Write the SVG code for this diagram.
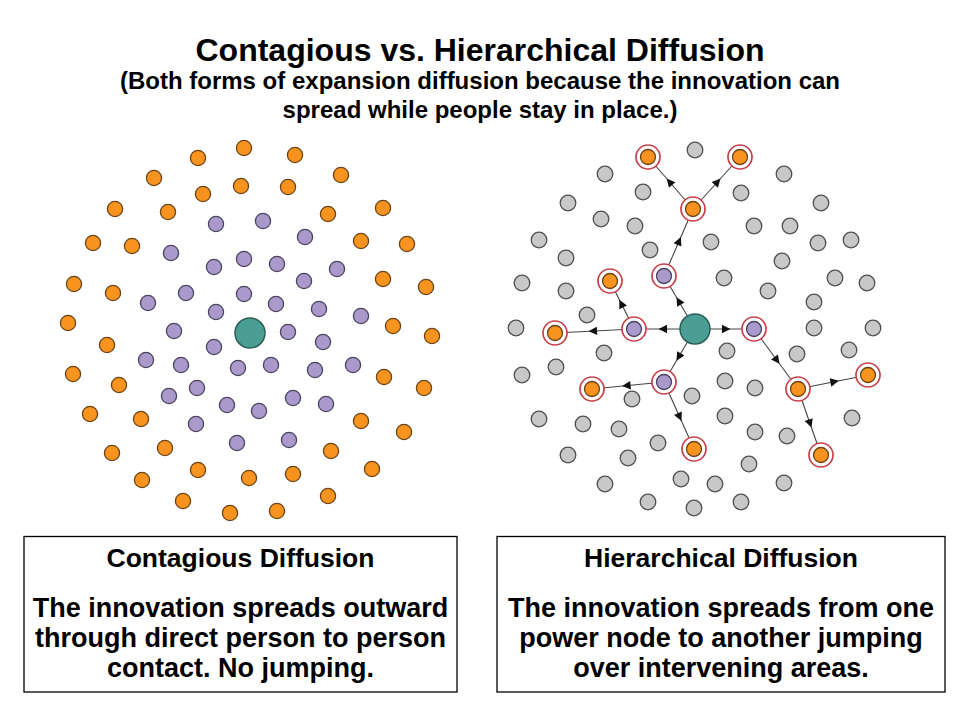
<svg xmlns="http://www.w3.org/2000/svg" width="960" height="720" viewBox="0 0 960 720">
<style>
text{font-family:"Liberation Sans",Arial,sans-serif;font-weight:bold;fill:#000;text-anchor:middle}
.t{font-size:32px}
.s{font-size:24px}
.h{font-size:26.5px}
.b{font-size:27px}
.o{fill:#F7931E;stroke:#6b4416;stroke-width:1.3}
.p{fill:#A99ACB;stroke:#4a4360;stroke-width:1.3}
.g{fill:#C8C8C8;stroke:#505050;stroke-width:1.3}
.c{fill:#4A9E93;stroke:#2c5e57;stroke-width:1.5}
.ring{fill:#fff;stroke:#C8404A;stroke-width:1.7}
.box{fill:#fff;stroke:#000;stroke-width:1.3}
.ln{fill:none;stroke:#444;stroke-width:1.1;marker-mid:url(#ah)}
</style>
<defs>
<marker id="ah" viewBox="0 0 10 10" refX="3" refY="5" markerWidth="12" markerHeight="8.5" orient="auto" markerUnits="userSpaceOnUse">
<path d="M0,0 L10,5 L0,10 z" fill="#111"/>
</marker>
</defs>
<rect width="960" height="720" fill="#fff"/>

<g id="title">
<text class="t" x="480" y="61">Contagious vs. Hierarchical Diffusion</text>
<text class="s" x="480" y="89">(Both forms of expansion diffusion because the innovation can</text>
<text class="s" x="480" y="118">spread while people stay in place.)</text>
</g>

<g id="contagious-cluster">
<g id="contagious-outer">
<circle class="o" cx="244" cy="148" r="7.6"/><circle class="o" cx="295" cy="155" r="7.6"/>
<circle class="o" cx="198" cy="158" r="7.6"/><circle class="o" cx="154" cy="178" r="7.6"/>
<circle class="o" cx="341" cy="175" r="7.6"/><circle class="o" cx="203" cy="194" r="7.6"/>
<circle class="o" cx="241" cy="186" r="7.6"/><circle class="o" cx="288" cy="187" r="7.6"/>
<circle class="o" cx="115" cy="209" r="7.6"/><circle class="o" cx="168" cy="212" r="7.6"/>
<circle class="o" cx="328" cy="214" r="7.6"/><circle class="o" cx="383" cy="208" r="7.6"/>
<circle class="o" cx="93" cy="243" r="7.6"/><circle class="o" cx="132" cy="246" r="7.6"/>
<circle class="o" cx="361" cy="241" r="7.6"/><circle class="o" cx="407" cy="244" r="7.6"/>
<circle class="o" cx="74" cy="284" r="7.6"/><circle class="o" cx="113" cy="293" r="7.6"/>
<circle class="o" cx="383" cy="279" r="7.6"/><circle class="o" cx="426" cy="287" r="7.6"/>
<circle class="o" cx="68" cy="323" r="7.6"/><circle class="o" cx="393" cy="326" r="7.6"/>
<circle class="o" cx="432" cy="336" r="7.6"/><circle class="o" cx="107" cy="345" r="7.6"/>
<circle class="o" cx="73" cy="374" r="7.6"/><circle class="o" cx="119" cy="385" r="7.6"/>
<circle class="o" cx="384" cy="377" r="7.6"/><circle class="o" cx="424" cy="388" r="7.6"/>
<circle class="o" cx="90" cy="414" r="7.6"/><circle class="o" cx="141" cy="419" r="7.6"/>
<circle class="o" cx="361" cy="421" r="7.6"/><circle class="o" cx="404" cy="432" r="7.6"/>
<circle class="o" cx="112" cy="453" r="7.6"/><circle class="o" cx="165" cy="448" r="7.6"/>
<circle class="o" cx="331" cy="451" r="7.6"/><circle class="o" cx="372" cy="469" r="7.6"/>
<circle class="o" cx="142" cy="480" r="7.6"/><circle class="o" cx="198" cy="470" r="7.6"/>
<circle class="o" cx="249" cy="478" r="7.6"/><circle class="o" cx="293" cy="474" r="7.6"/>
<circle class="o" cx="183" cy="501" r="7.6"/><circle class="o" cx="230" cy="513" r="7.6"/>
<circle class="o" cx="277" cy="511" r="7.6"/><circle class="o" cx="328" cy="496" r="7.6"/>
</g>
<g id="contagious-inner">
<circle class="p" cx="216" cy="224" r="7.6"/><circle class="p" cx="263" cy="221" r="7.6"/>
<circle class="p" cx="305" cy="237" r="7.6"/><circle class="p" cx="171" cy="253" r="7.6"/>
<circle class="p" cx="214" cy="267" r="7.6"/><circle class="p" cx="244" cy="259" r="7.6"/>
<circle class="p" cx="277" cy="264" r="7.6"/><circle class="p" cx="337" cy="269" r="7.6"/>
<circle class="p" cx="186" cy="293" r="7.6"/><circle class="p" cx="148" cy="303" r="7.6"/>
<circle class="p" cx="244" cy="294" r="7.6"/><circle class="p" cx="304" cy="281" r="7.6"/>
<circle class="p" cx="216" cy="312" r="7.6"/><circle class="p" cx="276" cy="304" r="7.6"/>
<circle class="p" cx="319" cy="309" r="7.6"/><circle class="p" cx="361" cy="316" r="7.6"/>
<circle class="p" cx="174" cy="331" r="7.6"/><circle class="p" cx="288" cy="332" r="7.6"/>
<circle class="p" cx="323" cy="342" r="7.6"/><circle class="p" cx="214" cy="347" r="7.6"/>
<circle class="p" cx="146" cy="360" r="7.6"/><circle class="p" cx="181" cy="365" r="7.6"/>
<circle class="p" cx="238" cy="368" r="7.6"/><circle class="p" cx="271" cy="365" r="7.6"/>
<circle class="p" cx="315" cy="370" r="7.6"/><circle class="p" cx="353" cy="365" r="7.6"/>
<circle class="p" cx="197" cy="388" r="7.6"/><circle class="p" cx="169" cy="396" r="7.6"/>
<circle class="p" cx="227" cy="405" r="7.6"/><circle class="p" cx="259" cy="411" r="7.6"/>
<circle class="p" cx="293" cy="398" r="7.6"/><circle class="p" cx="326" cy="404" r="7.6"/>
<circle class="p" cx="196" cy="424" r="7.6"/><circle class="p" cx="237" cy="443" r="7.6"/>
<circle class="p" cx="289" cy="440" r="7.6"/>
</g>
<g id="contagious-source"><circle class="c" cx="250" cy="333" r="15"/></g>
</g>

<g id="hierarchical-background">
<circle class="g" cx="695" cy="150" r="7.8"/><circle class="g" cx="605" cy="174" r="7.8"/>
<circle class="g" cx="784" cy="174" r="7.8"/><circle class="g" cx="643" cy="192" r="7.8"/>
<circle class="g" cx="741" cy="193" r="7.8"/><circle class="g" cx="568" cy="203" r="7.8"/>
<circle class="g" cx="821" cy="203" r="7.8"/><circle class="g" cx="601" cy="219" r="7.8"/>
<circle class="g" cx="635" cy="226" r="7.8"/><circle class="g" cx="754" cy="226" r="7.8"/>
<circle class="g" cx="790" cy="226" r="7.8"/><circle class="g" cx="539" cy="240" r="7.8"/>
<circle class="g" cx="711" cy="242" r="7.8"/><circle class="g" cx="818" cy="243" r="7.8"/>
<circle class="g" cx="851" cy="240" r="7.8"/><circle class="g" cx="650" cy="250" r="7.8"/>
<circle class="g" cx="566" cy="258" r="7.8"/><circle class="g" cx="782" cy="261" r="7.8"/>
<circle class="g" cx="522" cy="283" r="7.8"/><circle class="g" cx="724" cy="278" r="7.8"/>
<circle class="g" cx="835" cy="278" r="7.8"/><circle class="g" cx="867" cy="283" r="7.8"/>
<circle class="g" cx="566" cy="291" r="7.8"/><circle class="g" cx="768" cy="291" r="7.8"/>
<circle class="g" cx="814" cy="302" r="7.8"/><circle class="g" cx="587" cy="315" r="7.8"/>
<circle class="g" cx="516" cy="328" r="7.8"/><circle class="g" cx="814" cy="328" r="7.8"/>
<circle class="g" cx="873" cy="328" r="7.8"/><circle class="g" cx="604" cy="353" r="7.8"/>
<circle class="g" cx="727" cy="351" r="7.8"/><circle class="g" cx="797" cy="354" r="7.8"/>
<circle class="g" cx="849" cy="350" r="7.8"/><circle class="g" cx="556" cy="367" r="7.8"/>
<circle class="g" cx="522" cy="375" r="7.8"/><circle class="g" cx="725" cy="381" r="7.8"/>
<circle class="g" cx="755" cy="388" r="7.8"/><circle class="g" cx="632" cy="399" r="7.8"/>
<circle class="g" cx="692" cy="396" r="7.8"/><circle class="g" cx="539" cy="419" r="7.8"/>
<circle class="g" cx="583" cy="424" r="7.8"/><circle class="g" cx="619" cy="429" r="7.8"/>
<circle class="g" cx="725" cy="416" r="7.8"/><circle class="g" cx="852" cy="418" r="7.8"/>
<circle class="g" cx="658" cy="443" r="7.8"/><circle class="g" cx="755" cy="432" r="7.8"/>
<circle class="g" cx="787" cy="436" r="7.8"/><circle class="g" cx="568" cy="455" r="7.8"/>
<circle class="g" cx="628" cy="458" r="7.8"/><circle class="g" cx="749" cy="464" r="7.8"/>
<circle class="g" cx="681" cy="479" r="7.8"/><circle class="g" cx="605" cy="484" r="7.8"/>
<circle class="g" cx="784" cy="483" r="7.8"/><circle class="g" cx="715" cy="484" r="7.8"/>
<circle class="g" cx="648" cy="502" r="7.8"/><circle class="g" cx="741" cy="502" r="7.8"/>
<circle class="g" cx="694" cy="508" r="7.8"/>
</g>

<g id="connectors">
<path class="ln" d="M695,329 L724.5,329 L754,329"/>
<path class="ln" d="M695,329 L664.5,329 L634,329"/>
<path class="ln" d="M695,329 L679.5,302.5 L664,276"/>
<path class="ln" d="M695,329 L679.5,355.5 L664,382"/>
<path class="ln" d="M664,276 L678.5,242.5 L693,209"/>
<path class="ln" d="M693,209 L670.5,183 L648,157"/>
<path class="ln" d="M693,209 L716.5,183 L740,157"/>
<path class="ln" d="M634,329 L622,305 L610,281"/>
<path class="ln" d="M634,329 L594.5,331 L555,333"/>
<path class="ln" d="M664,382 L628,385.5 L592,389"/>
<path class="ln" d="M664,382 L679,415.5 L694,449"/>
<path class="ln" d="M754,329 L776,359 L798,389"/>
<path class="ln" d="M798,389 L833,382 L868,375"/>
<path class="ln" d="M798,389 L809.5,422 L821,455"/>
</g>

<g id="hierarchical-source"><circle class="c" cx="695" cy="329" r="15"/></g>
<g id="node-p1"><circle class="ring" cx="754" cy="329" r="12"/><circle class="p" cx="754" cy="329" r="7.5"/></g>
<g id="node-p2"><circle class="ring" cx="634" cy="329" r="12"/><circle class="p" cx="634" cy="329" r="7.5"/></g>
<g id="node-p3"><circle class="ring" cx="664" cy="276" r="12"/><circle class="p" cx="664" cy="276" r="7.5"/></g>
<g id="node-p4"><circle class="ring" cx="664" cy="382" r="12"/><circle class="p" cx="664" cy="382" r="7.5"/></g>
<g id="node-o1"><circle class="ring" cx="693" cy="209" r="12"/><circle class="o" cx="693" cy="209" r="7.5"/></g>
<g id="node-o2"><circle class="ring" cx="648" cy="157" r="12"/><circle class="o" cx="648" cy="157" r="7.5"/></g>
<g id="node-o3"><circle class="ring" cx="740" cy="157" r="12"/><circle class="o" cx="740" cy="157" r="7.5"/></g>
<g id="node-o4"><circle class="ring" cx="610" cy="281" r="12"/><circle class="o" cx="610" cy="281" r="7.5"/></g>
<g id="node-o5"><circle class="ring" cx="555" cy="333" r="12"/><circle class="o" cx="555" cy="333" r="7.5"/></g>
<g id="node-o6"><circle class="ring" cx="592" cy="389" r="12"/><circle class="o" cx="592" cy="389" r="7.5"/></g>
<g id="node-o7"><circle class="ring" cx="694" cy="449" r="12"/><circle class="o" cx="694" cy="449" r="7.5"/></g>
<g id="node-o8"><circle class="ring" cx="798" cy="389" r="12"/><circle class="o" cx="798" cy="389" r="7.5"/></g>
<g id="node-o9"><circle class="ring" cx="868" cy="375" r="12"/><circle class="o" cx="868" cy="375" r="7.5"/></g>
<g id="node-o10"><circle class="ring" cx="821" cy="455" r="12"/><circle class="o" cx="821" cy="455" r="7.5"/></g>

<g id="box-contagious">
<rect class="box" x="24" y="536.5" width="433" height="155.5"/>
<text class="h" x="240.5" y="567">Contagious Diffusion</text>
<text class="b" x="240.5" y="617">The innovation spreads outward</text>
<text class="b" x="240.5" y="647">through direct person to person</text>
<text class="b" x="240.5" y="677">contact. No jumping.</text>
</g>
<g id="box-hierarchical">
<rect class="box" x="497" y="536.5" width="448" height="155.5"/>
<text class="h" x="721" y="567">Hierarchical Diffusion</text>
<text class="b" x="721" y="617">The innovation spreads from one</text>
<text class="b" x="721" y="647">power node to another jumping</text>
<text class="b" x="721" y="677">over intervening areas.</text>
</g>
</svg>
